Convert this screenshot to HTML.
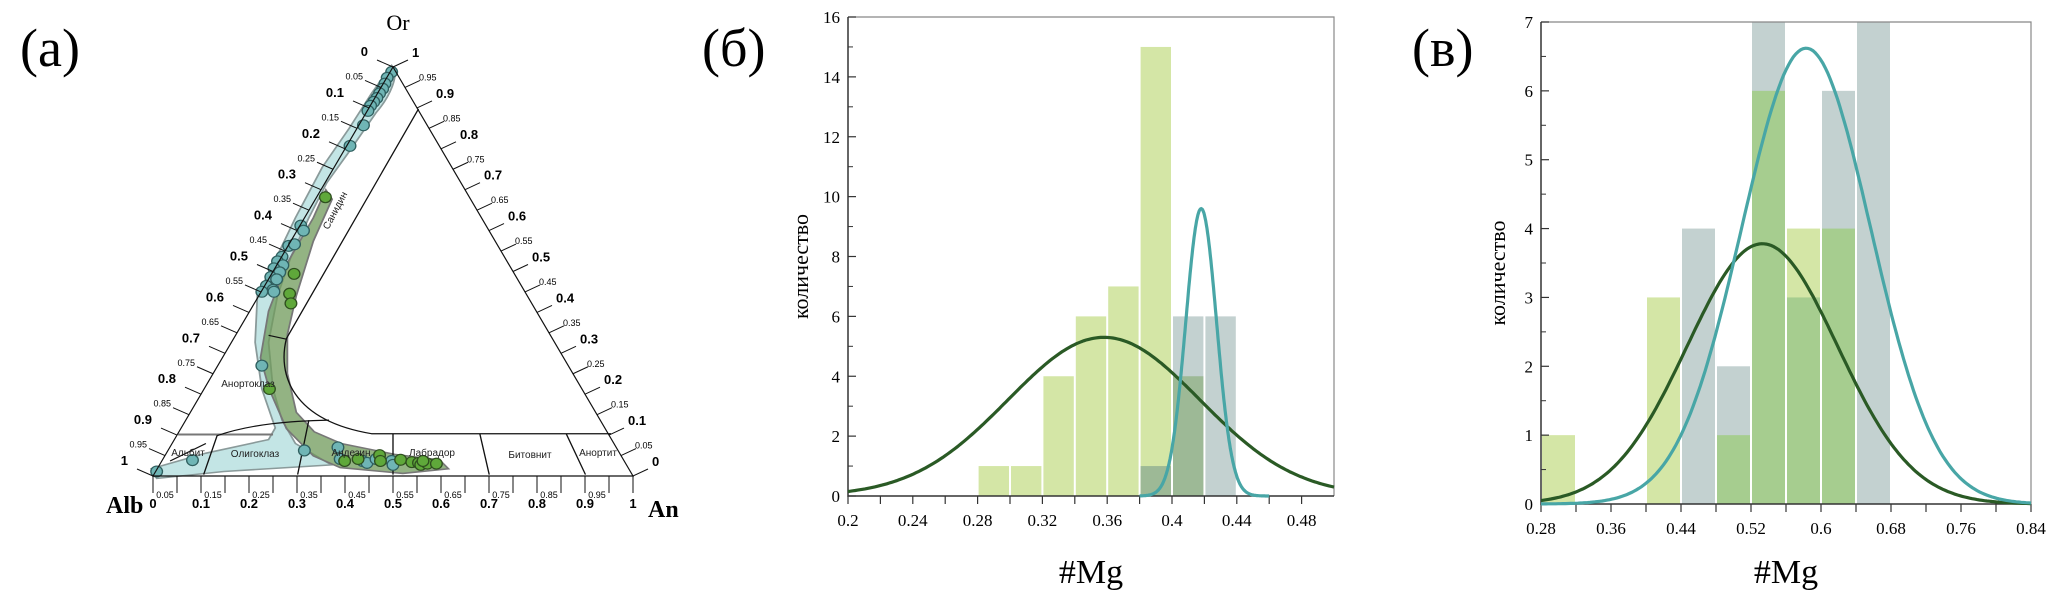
<!DOCTYPE html>
<html><head><meta charset="utf-8">
<style>
html,body{margin:0;padding:0;background:#fff;}
svg{display:block;}
.ser{font-family:"Liberation Serif",serif;}
.san{font-family:"Liberation Sans",sans-serif;}
</style></head>
<body>
<svg id="root" width="2067" height="611" viewBox="0 0 2067 611" xmlns="http://www.w3.org/2000/svg">
  <text x="20" y="66" class="ser" font-size="54">(a)</text>
  <text x="702" y="66" class="ser" font-size="54">(б)</text>
  <text x="1412" y="66" class="ser" font-size="54">(в)</text>

  <g id="ternary">
    <g transform="scale(0.4476,0.389)">
      <path fill="#b9e0e0" fill-opacity="0.85" stroke="#8a9a9a" stroke-width="4" d="M875,168 C895,190 870,250 840,290 L780,390 L730,470 L690,560 L650,660 L620,760 L600,880 L610,1000 L630,1080 L660,1140 L740,1195 L500,1212 L350,1230 L338,1205 L460,1165 L600,1130 L615,1100 L585,1000 L570,880 L575,760 L610,680 L660,560 L720,430 L780,330 L830,240 Z"/>
      <path fill="#6f9a5a" fill-opacity="0.75" stroke="#777" stroke-width="4" d="M728,488 L742,512 L700,620 L662,760 L642,860 L642,960 L662,1060 L702,1110 L762,1140 L882,1168 L982,1182 L1002,1205 L900,1217 L760,1202 L700,1172 L640,1102 L602,1002 L582,920 L600,800 L640,680 L700,560 Z"/>
      <g fill="none" stroke="#111" stroke-width="3">
        <path d="M935,280 L640,870 C620,960 650,1080 830,1115 L1365,1115"/>
        <path d="M600,862 L640,872"/>
        <path d="M398,1117 L610,1117" stroke="#777" stroke-width="5"/>
        <path d="M455,1220 L485,1120 C560,1090 650,1082 735,1080"/>
        <path d="M665,1220 L690,1080"/>
        <path d="M878,1220 L878,1115"/>
        <path d="M1093,1220 L1072,1115"/>
        <path d="M1308,1220 L1265,1115"/>
        <path d="M380,1185 L460,1140"/>
      </g>
      <g id="pts"></g>
    </g>
    <g id="tern-axes"></g>
    <g class="san" font-size="10" fill="#222">
      <text x="338" y="212" transform="rotate(-62 338 212)" text-anchor="middle">Санидин</text>
      <text x="248" y="387" text-anchor="middle">Анортоклаз</text>
      <text x="188" y="456" text-anchor="middle">Альбит</text>
      <text x="255" y="457" text-anchor="middle">Олигоклаз</text>
      <text x="351" y="456" text-anchor="middle">Андезин</text>
      <text x="432" y="456" text-anchor="middle">Лабрадор</text>
      <text x="530" y="458" text-anchor="middle">Битовнит</text>
      <text x="598" y="456" text-anchor="middle">Анортит</text>
    </g>
    <text x="398" y="30" class="ser" font-size="22" text-anchor="middle">Or</text>
    <text x="106" y="513" class="ser" font-size="24" font-weight="bold">Alb</text>
    <text x="648" y="517" class="ser" font-size="24" font-weight="bold">An</text>
  </g>

  <g id="chartB"></g>
  <g id="chartV"></g>
</svg>
<script>
// ===== Ternary data (points in diagram pixel space of the scaled group) =====
const bluePtsX = [875,865,860,855,848,842,835,828,822,812,782,672,678,645,658,630,620,632,612,625,605,618,595,610,585,612,585,430,350,680,755,760,810,820,840,875,878];
const bluePtsY = [185,200,215,228,240,252,262,272,285,322,375,580,593,632,628,660,672,682,690,700,712,718,735,745,750,750,940,1183,1212,1158,1150,1180,1185,1190,1180,1185,1195];
const greenPtsX = [727,657,647,650,602,770,800,848,850,895,920,935,940,955,975,945];
const greenPtsY = [507,704,755,780,1000,1185,1180,1170,1185,1182,1188,1190,1195,1192,1192,1185];
const ternMajor = [0,0.1,0.2,0.3,0.4,0.5,0.6,0.7,0.8,0.9,1];
const ternMinor = [0.05,0.15,0.25,0.35,0.45,0.55,0.65,0.75,0.85,0.95];

const NS = "http://www.w3.org/2000/svg";
function mk(tag, attrs, parent){const e=document.createElementNS(NS,tag);for(const k in attrs)e.setAttribute(k,attrs[k]);if(parent)parent.appendChild(e);return e;}

(function(){
  const pts = document.getElementById('pts');
  for(let i=0;i<bluePtsX.length;i++){
    const c=mk('ellipse',{cx:bluePtsX[i],cy:bluePtsY[i],rx:13,ry:14,fill:'#6fb5b5',stroke:'#2f5f5f','stroke-width':3},pts);
    
    
  }
  for(let i=0;i<greenPtsX.length;i++){
    const c=mk('ellipse',{cx:greenPtsX[i],cy:greenPtsY[i],rx:13,ry:14,fill:'#5fa83a',stroke:'#2f4f1f','stroke-width':3},pts);
    
    
  }
  const ax=document.getElementById('tern-axes');
  const A={x:153,y:476}, B={x:633,y:476}, O={x:393,y:67};
  const tri=mk('path',{d:`M${A.x},${A.y} L${O.x},${O.y} L${B.x},${B.y} Z`,fill:'none',stroke:'#111','stroke-width':1.2},ax);
  
  
  function tick(v, major){
    const fs = major?13:9, fw = major?'bold':'normal';
    const lab = String(v);
    // left edge: 0 at top, 1 at Alb
    let px=O.x+v*(A.x-O.x), py=O.y+v*(A.y-O.y);
    let l=mk('line',{x1:px,y1:py,x2:px-16,y2:py-7,stroke:'#111','stroke-width':1},ax);
    
    
    let t=mk('text',{x:px-(major?25:18),y:py-(major?11:8),'font-size':fs,'font-weight':fw,'text-anchor':'end','font-family':'Liberation Sans, sans-serif'},ax);
    t.textContent=lab;
    
    
    // right edge: 1 at top, 0 at An
    px=O.x+(1-v)*(B.x-O.x); py=O.y+(1-v)*(B.y-O.y);
    l=mk('line',{x1:px,y1:py,x2:px+15,y2:py-7,stroke:'#111','stroke-width':1},ax);
    
    
    t=mk('text',{x:px+(major?19:14),y:py-(major?10:7),'font-size':fs,'font-weight':fw,'font-family':'Liberation Sans, sans-serif'},ax);
    t.textContent=lab;
    
    
    // bottom
    px=A.x+v*(B.x-A.x); py=A.y;
    l=mk('line',{x1:px,y1:py,x2:px,y2:py+17,stroke:'#111','stroke-width':1},ax);
    
    
    t=mk('text',{x:px+(major?0:-12),y:major?508:498,'font-size':fs,'font-weight':fw,'text-anchor':'middle','font-family':'Liberation Sans, sans-serif'},ax);
    t.textContent=lab;
    
    
  }
  ternMajor.forEach(v=>tick(v,true));
  ternMinor.forEach(v=>tick(v,false));
})();

// ===== Histogram (б) data =====
const bBins = [0.28,0.30,0.32,0.34,0.36,0.38,0.40,0.42];
const bGray = [0,0,0,0,0,1,6,6];
const bLight = [1,1,4,6,7,15,0,0];
const bMid = [0,0,0,0,0,1,4,0];
const bCurveMean = [0.358,0.418];
const bCurveSd = [0.0592,0.0095];
const bCurvePeak = [5.3,9.6];
const bCurveFrom = [0.2,0.38];
const bCurveTo = [0.5,0.46];
const bYTicks = [0,2,4,6,8,10,12,14,16];
const bXTicks = ['0.2','0.24','0.28','0.32','0.36','0.4','0.44','0.48'];

// ===== Histogram (в) data =====
const vBins = [0.28,0.32,0.36,0.40,0.44,0.48,0.52,0.56,0.60,0.64];
const vGray = [0,0,0,0,4,2,7,0,6,7];
const vLight = [1,0,0,3,0,0,0,4,0,0];
const vMid = [0,0,0,0,0,1,6,3,4,0];
const vCurveMean = [0.533,0.583];
const vCurveSd = [0.086,0.0736];
const vCurvePeak = [3.78,6.62];
const vCurveFrom = [0.28,0.28];
const vCurveTo = [0.84,0.84];
const vYTicks = [0,1,2,3,4,5,6,7];
const vXTicks = ['0.28','0.36','0.44','0.52','0.6','0.68','0.76','0.84'];

function hist(g, o){
  const X=v=>o.x0+(v-o.xmin)/(o.xmax-o.xmin)*(o.x1-o.x0);
  const Y=v=>o.y0-(v-o.ymin)/(o.ymax-o.ymin)*(o.y0-o.y1);
  const series=[[o.gray,'#c3d1d0','bar-gray'],[o.light,'#d4e6a6','bar-light-green'],[o.mid,o.midColor,'bar-mid-green']];
  series.forEach(([arr,col,nm])=>{
    arr.forEach((v,i)=>{
      if(v<=0)return;
      const xa=X(o.bins[i]), xb=X(o.bins[i]+o.bw);
      const r=mk('rect',{x:xa+1,y:Y(v),width:xb-xa-2,height:Y(0)-Y(v),fill:col},g);
      
      
    });
  });
  // frame
  const fr=mk('path',{d:`M${o.x0},${o.y1} L${o.x1},${o.y1} L${o.x1},${o.y0}`,fill:'none',stroke:'#888','stroke-width':1.2},g);
  
  
  const axl=mk('path',{d:`M${o.x0},${o.y1} L${o.x0},${o.y0} L${o.x1},${o.y0}`,fill:'none',stroke:'#333','stroke-width':1.5},g);
  
  
  // y ticks
  o.yt.forEach((v,i)=>{
    const y=Y(v);
    const l=mk('line',{x1:o.x0,y1:y,x2:o.x0+8,y2:y,stroke:'#333','stroke-width':1.2},g);
    
    
    const t=mk('text',{x:o.x0-8,y:y+6,'text-anchor':'end','font-size':17,'font-family':'Liberation Serif, serif'},g);
    t.textContent=String(v);
    
    
    if(i<o.yt.length-1){
      const ym=Y((v+o.yt[i+1])/2);
      const m=mk('line',{x1:o.x0,y1:ym,x2:o.x0+5,y2:ym,stroke:'#333','stroke-width':1},g);
      
      
    }
  });
  // x ticks
  o.xt.forEach((s,i)=>{
    const v=parseFloat(s), x=X(v);
    const l=mk('line',{x1:x,y1:o.y0,x2:x,y2:o.y0+8,stroke:'#333','stroke-width':1.2},g);
    
    
    const t=mk('text',{x:x,y:o.y0+30,'text-anchor':'middle','font-size':17,'font-family':'Liberation Serif, serif'},g);
    t.textContent=s;
    
    
    if(i<o.xt.length-1){
      const xm=X((v+parseFloat(o.xt[i+1]))/2);
      const m=mk('line',{x1:xm,y1:o.y0,x2:xm,y2:o.y0+8,stroke:'#333','stroke-width':1.2},g);
      
      
    }
  });
  // curves
  const cols=['#2a5a25','#48a6a6'], names=['fit-curve-dark-green','fit-curve-teal'];
  o.mean.forEach((mu,k)=>{
    let d='';
    const n=200;
    for(let j=0;j<=n;j++){
      const v=o.from[k]+(o.to[k]-o.from[k])*j/n;
      const yv=o.peak[k]*Math.exp(-((v-mu)*(v-mu))/(2*o.sd[k]*o.sd[k]));
      d+=(j?'L':'M')+X(v).toFixed(1)+','+Y(yv).toFixed(1);
    }
    const p=mk('path',{d:d,fill:'none',stroke:cols[k],'stroke-width':3.2},g);
    
    
  });
  const yt=mk('text',{x:o.ylx,y:(o.y0+o.y1)/2+10,transform:`rotate(-90 ${o.ylx} ${(o.y0+o.y1)/2+10})`,'text-anchor':'middle','font-size':22,'font-family':'Liberation Serif, serif'},g);
  yt.textContent='количество';
  
  
  const xt=mk('text',{x:(o.x0+o.x1)/2,y:583,'text-anchor':'middle','font-size':34,'font-family':'Liberation Serif, serif'},g);
  xt.textContent='#Mg';
  
  
}
hist(document.getElementById('chartB'),{x0:848,x1:1334,y0:496,y1:17,xmin:0.2,xmax:0.5,ymin:0,ymax:16,bins:bBins,bw:0.02,gray:bGray,light:bLight,mid:bMid,midColor:'#9db996',mean:bCurveMean,sd:bCurveSd,peak:bCurvePeak,from:bCurveFrom,to:bCurveTo,yt:bYTicks,xt:bXTicks,ylx:808});
hist(document.getElementById('chartV'),{x0:1541,x1:2031,y0:504,y1:22,xmin:0.28,xmax:0.84,ymin:0,ymax:7,bins:vBins,bw:0.04,gray:vGray,light:vLight,mid:vMid,midColor:'#a6cd8f',mean:vCurveMean,sd:vCurveSd,peak:vCurvePeak,from:vCurveFrom,to:vCurveTo,yt:vYTicks,xt:vXTicks,ylx:1505});
</script>
</body></html>
